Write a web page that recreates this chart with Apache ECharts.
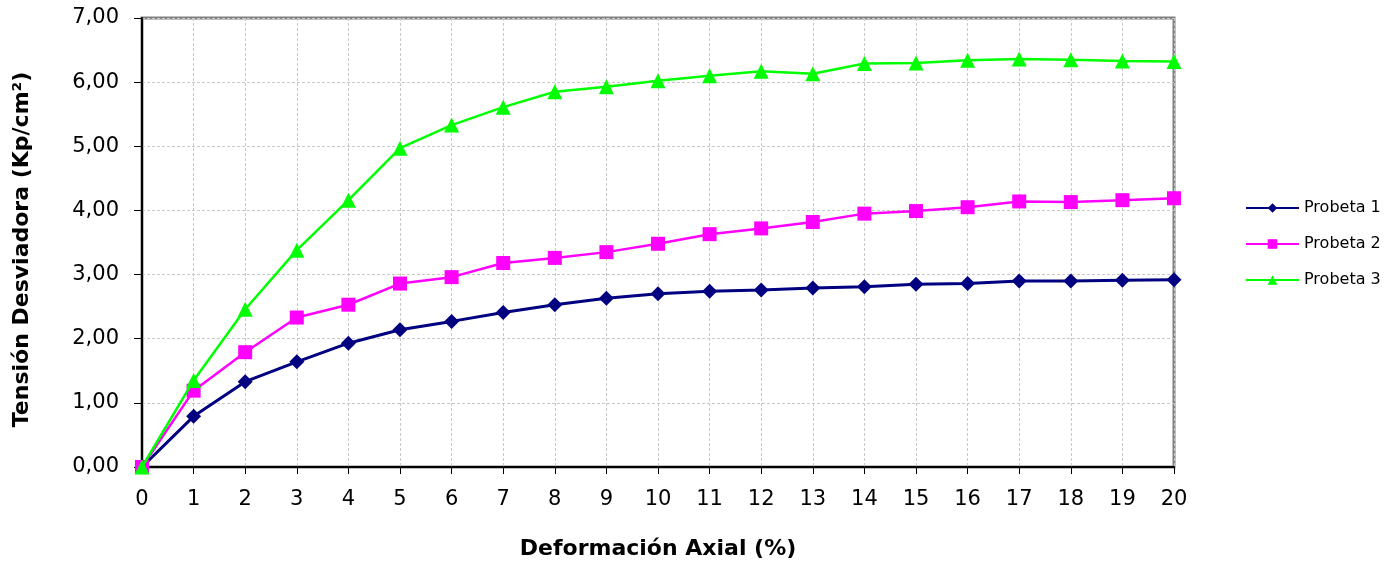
<!DOCTYPE html>
<html>
<head>
<meta charset="utf-8">
<script src="https://cdn.jsdelivr.net/npm/echarts@6/dist/echarts.min.js"></script>
<style>html,body{margin:0;padding:0;background:#fff}#c{width:1392px;height:562px}</style>
</head>
<body>
<div id="c"></div>
<script>
const deformacion = [0,1,2,3,4,5,6,7,8,9,10,11,12,13,14,15,16,17,18,19,20];
const probeta1 = [0,0.79,1.33,1.64,1.93,2.14,2.27,2.41,2.53,2.63,2.70,2.74,2.76,2.79,2.81,2.85,2.86,2.90,2.90,2.91,2.92];
const probeta2 = [0,1.19,1.79,2.33,2.53,2.86,2.96,3.18,3.26,3.35,3.48,3.63,3.72,3.82,3.95,3.99,4.05,4.14,4.13,4.16,4.19];
const probeta3 = [0,1.35,2.46,3.38,4.16,4.97,5.33,5.61,5.85,5.93,6.02,6.10,6.17,6.13,6.29,6.30,6.34,6.36,6.35,6.33,6.32];
const seriesNames = ['Probeta 1','Probeta 2','Probeta 3'];

const pairs = arr => deformacion.map((x,i)=>[x,arr[i]]);
const font = '"DejaVu Sans", "Liberation Sans", Arial, sans-serif';
const chart = echarts.init(document.getElementById('c'));
chart.setOption({
  animation:false,
  textStyle:{fontFamily:font},
  grid:{left:142,right:218,top:18,bottom:95,show:true,borderColor:'#808080',borderWidth:3,backgroundColor:'#fff',outerBoundsMode:'none',containLabel:false},
  legend:{
    orient:'vertical',left:1240,top:195,itemWidth:53,itemHeight:12,itemGap:20,
    textStyle:{fontSize:16,color:'#000',fontFamily:font},
    data:seriesNames
  },
  xAxis:{
    type:'value',min:0,max:20,interval:1,
    name:'Deformación Axial (%)',nameLocation:'middle',nameGap:71,
    nameTextStyle:{fontSize:22,fontWeight:'bold',color:'#000',fontFamily:font},
    axisLine:{lineStyle:{color:'#000',width:2}},
    axisTick:{length:7,lineStyle:{color:'#000',width:1}},
    axisLabel:{fontSize:21,color:'#000',margin:22,fontFamily:font},
    splitLine:{show:true,lineStyle:{color:'#c8c8c8',type:[3,2],width:1}}
  },
  yAxis:{
    type:'value',min:0,max:7,interval:1,
    name:'Tensión Desviadora (Kp/cm²)',nameLocation:'middle',nameGap:109,
    nameTextStyle:{fontSize:22,fontWeight:'bold',color:'#000',fontFamily:font,padding:[0,14,0,0]},
    axisLine:{show:true,lineStyle:{color:'#000',width:2}},
    axisTick:{show:true,length:8,lineStyle:{color:'#000',width:1}},
    axisLabel:{fontSize:21,color:'#000',margin:23,fontFamily:font,
      formatter:v=>v.toFixed(2).replace('.',',')},
    splitLine:{show:true,lineStyle:{color:'#c8c8c8',type:[3,2],width:1}}
  },
  series:[
    {name:seriesNames[0],type:'line',data:pairs(probeta1),symbol:'diamond',symbolSize:15,
     lineStyle:{color:'#000080',width:3},itemStyle:{color:'#000080'},z:3},
    {name:seriesNames[1],type:'line',data:pairs(probeta2),symbol:'rect',symbolSize:14,
     lineStyle:{color:'#FF00FF',width:2.5},itemStyle:{color:'#FF00FF'},z:4},
    {name:seriesNames[2],type:'line',data:pairs(probeta3),symbol:'triangle',symbolSize:15,
     lineStyle:{color:'#00FF00',width:2.5},itemStyle:{color:'#00FF00'},z:5}
  ]
});
</script>
</body>
</html>
